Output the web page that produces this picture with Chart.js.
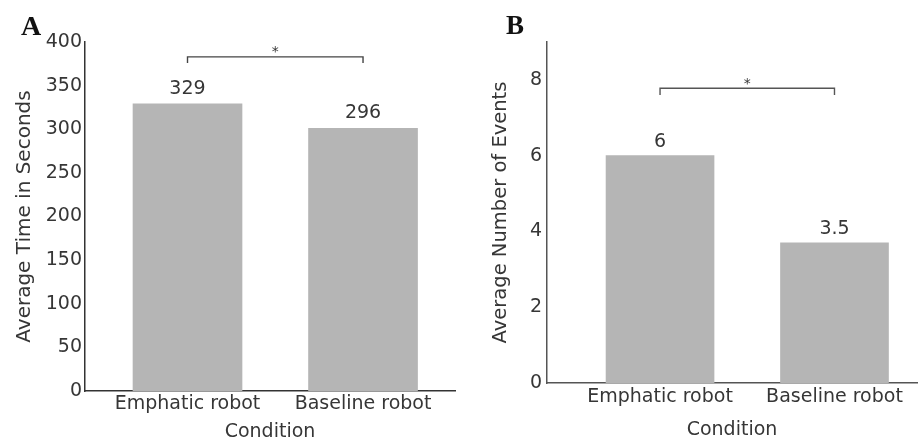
<!DOCTYPE html>
<html>
<head>
<meta charset="utf-8">
<script src="https://cdn.jsdelivr.net/npm/chart.js@4.4.1/dist/chart.umd.min.js"></script>
<style>
  html, body { margin: 0; padding: 0; background: #fff; }
  #wrap { position: relative; width: 918px; height: 448px; overflow: hidden; }
  .panel { position: absolute; top: 0; width: 459px; height: 448px; }
  .letter { position: absolute; font-family: "Liberation Serif", serif; font-weight: bold; color: #111; }
</style>
</head>
<body>
<div id="wrap">
  <div class="panel" style="left:0"><canvas id="chartA" width="459" height="448"></canvas></div>
  <div class="panel" style="left:459px"><canvas id="chartB" width="459" height="448"></canvas></div>
  <div class="letter" style="left:21px;top:10px;font-size:28px">A</div>
  <div class="letter" style="left:506px;top:10px;font-size:27px">B</div>
</div>
<script>
'use strict';

/* ── Data ───────────────────────────────────────────── */
const CATEGORIES = ['Emphatic robot', 'Baseline robot'];

// Panel A: average time (s). Bar heights as drawn, labels as printed.
const TIME_VALUES = [329, 301];
const TIME_LABELS = ['329', '296'];
const TIME_TICKS  = [0, 50, 100, 150, 200, 250, 300, 350, 400];

// Panel B: average number of events
const EVENT_VALUES = [6, 3.7];
const EVENT_LABELS = ['6', '3.5'];
const EVENT_TICKS  = [0, 2, 4, 6, 8];

/* ── Styling ────────────────────────────────────────── */
const TEXT = '#363636';
const BAR  = '#b5b5b5';
Chart.defaults.font.family = '"DejaVu Sans", sans-serif';
Chart.defaults.color = TEXT;

/* ── Bracket, asterisk and value labels ─────────────── */
const annot = {
  id: 'annot',
  afterDatasetsDraw(chart, args, o) {
    const { ctx } = chart;
    const x = chart.scales.x, y = chart.scales.y;
    const meta = chart.getDatasetMeta(0);
    ctx.save();
    ctx.fillStyle = TEXT;
    ctx.textAlign = 'center';
    ctx.textBaseline = 'middle';
    ctx.font = '19px "DejaVu Sans"';
    meta.data.forEach((bar, i) => ctx.fillText(o.labels[i], bar.x, bar.y - o.gap));

    const x0 = x.getPixelForValue(0), x1 = x.getPixelForValue(1);
    const yTop = y.getPixelForValue(o.bracket[0]);
    const yFoot = y.getPixelForValue(o.bracket[1]);
    ctx.strokeStyle = o.lineColor;
    ctx.lineWidth = 1.4;
    ctx.beginPath();
    ctx.moveTo(x0, yFoot); ctx.lineTo(x0, yTop);
    ctx.lineTo(x1, yTop);  ctx.lineTo(x1, yFoot);
    ctx.stroke();

    ctx.font = '14px "DejaVu Sans"';
    ctx.textBaseline = 'alphabetic';
    ctx.fillText('*', (x0 + x1) / 2, yTop - 0.5);
    ctx.restore();
  }
};

function makeChart(id, cfg) {
  const tickFont = { size: 19 };
  return new Chart(document.getElementById(id), {
    type: 'bar',
    data: {
      datasets: [{
        data: cfg.values.map((v, i) => ({ x: i, y: v })),
        backgroundColor: BAR,
        borderWidth: 0,
        barThickness: cfg.barWidth
      }]
    },
    options: {
      responsive: false,
      animation: false,
      layout: { padding: cfg.padding },
      plugins: {
        legend: { display: false },
        tooltip: { enabled: false },
        annot: { labels: cfg.labels, gap: cfg.gap, bracket: cfg.bracket, lineColor: cfg.bracketColor }
      },
      scales: {
        x: {
          type: 'linear',
          min: cfg.xRange[0], max: cfg.xRange[1],
          offset: false,
          grid: { display: false, drawTicks: false },
          border: { display: true, color: cfg.axisColor, width: 1.5 },
          afterBuildTicks: s => { s.ticks = CATEGORIES.map((c, i) => ({ value: i })); },
          ticks: {
            callback: v => CATEGORIES[v],
            padding: cfg.xTickPad, font: tickFont, color: TEXT,
            maxRotation: 0, autoSkip: false
          },
          title: {
            display: true, text: 'Condition', color: TEXT,
            font: { size: 19 }, padding: { top: 0, bottom: cfg.xTitlePad }
          },
          afterFit: s => { s.height = cfg.xHeight; }
        },
        y: {
          min: 0, max: cfg.yMax,
          grid: { display: false, drawTicks: false },
          border: { display: true, color: cfg.axisColor, width: 1.5 },
          afterBuildTicks: s => { s.ticks = cfg.ticks.map(v => ({ value: v })); },
          ticks: { padding: cfg.yTickPad, font: tickFont, color: TEXT },
          title: {
            display: true, text: cfg.yTitle, color: TEXT,
            font: { size: cfg.yTitleSize }, padding: { top: cfg.yTitlePad, bottom: 0 }
          },
          afterFit: s => { s.width = cfg.yWidth; }
        }
      }
    },
    plugins: [annot]
  });
}

makeChart('chartA', {
  values: TIME_VALUES, labels: TIME_LABELS, ticks: TIME_TICKS, yMax: 400,
  yTitle: 'Average Time in Seconds', yTitleSize: 20, yTitlePad: 13,
  padding: { top: 42, right: 4, bottom: 0, left: 0 },
  xRange: [-0.584, 1.524], barWidth: 109,
  xHeight: 57, yWidth: 85, xTickPad: 2, xTitlePad: 5, yTickPad: 3,
  gap: 15, bracket: [383, 376], axisColor: '#333', bracketColor: '#444'
});

makeChart('chartB', {
  values: EVENT_VALUES, labels: EVENT_LABELS, ticks: EVENT_TICKS, yMax: 9,
  yTitle: 'Average Number of Events', yTitleSize: 19.5, yTitlePad: 30,
  padding: { top: 42, right: 1, bottom: 0, left: 0 },
  xRange: [-0.648, 1.473], barWidth: 108,
  xHeight: 65, yWidth: 88, xTickPad: 3, xTitlePad: 7, yTickPad: 5,
  gap: 14, bracket: [7.78, 7.6], axisColor: '#555', bracketColor: '#555'
});
</script>
</body>
</html>
